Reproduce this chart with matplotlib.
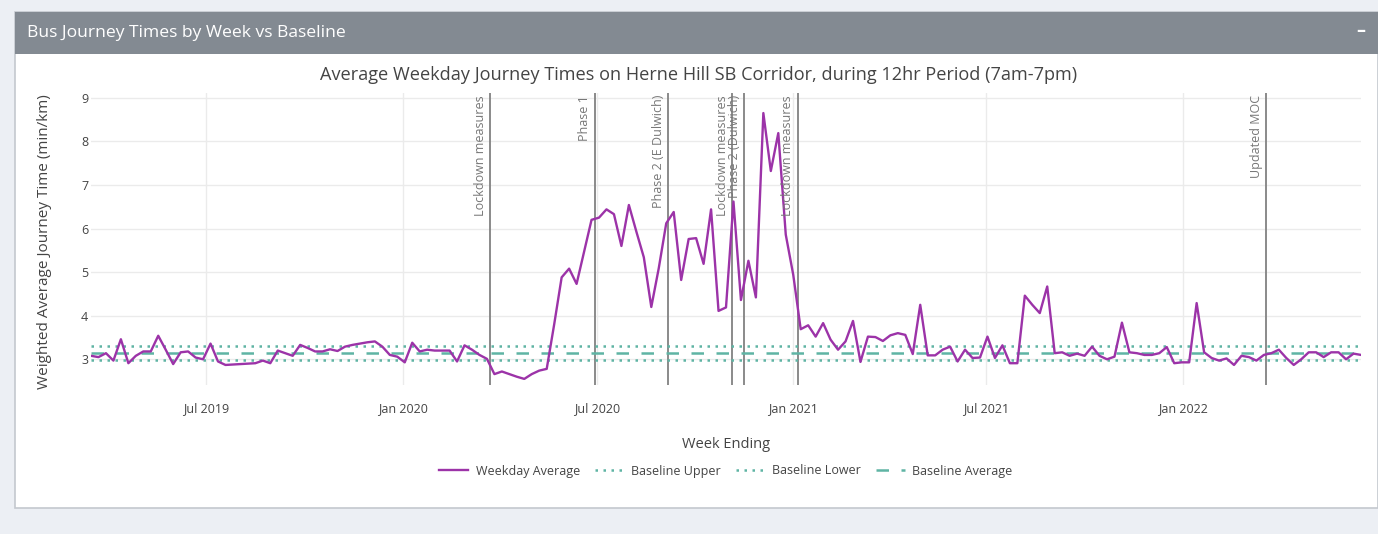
import matplotlib
matplotlib.use("Agg")
import matplotlib.pyplot as plt
import matplotlib.dates as mdates
from matplotlib.patches import Rectangle
import pandas as pd

plt.rcParams["font.family"] = ["Open Sans", "DejaVu Sans"]

# weekly values (min/km), week ending dates start 15 Mar 2019
start_week = "2019-03-15"
weekday_avg = [
    3.08, 3.05, 3.14, 2.97, 3.46, 2.91, 3.08, 3.18, 3.18, 3.54,
    3.22, 2.89, 3.16, 3.18, 3.04, 3.00, 3.36, 2.95, 2.87, 2.88,
    2.89, 2.90, 2.91, 2.97, 2.91, 3.20, 3.14, 3.08, 3.33, 3.26,
    3.18, 3.18, 3.23, 3.19, 3.29, 3.33, 3.36, 3.39, 3.41, 3.29,
    3.10, 3.06, 2.93, 3.38, 3.18, 3.22, 3.20, 3.20, 3.20, 2.95,
    3.32, 3.22, 3.10, 3.01, 2.66, 2.72, 2.66, 2.60, 2.55, 2.66,
    2.74, 2.78, 3.80, 4.88, 5.08, 4.73, 5.47, 6.20, 6.25, 6.44,
    6.33, 5.60, 6.54, 5.93, 5.34, 4.20, 5.09, 6.12, 6.38, 4.82,
    5.76, 5.78, 5.19, 6.44, 4.11, 4.19, 6.62, 4.36, 5.26, 4.42,
    8.65, 7.32, 8.19, 5.86, 4.94, 3.69, 3.78, 3.52, 3.83, 3.45,
    3.22, 3.41, 3.88, 2.94, 3.52, 3.51, 3.42, 3.55, 3.60, 3.56,
    3.12, 4.25, 3.09, 3.09, 3.22, 3.29, 2.95, 3.22, 3.03, 3.04,
    3.52, 3.03, 3.32, 2.91, 2.91, 4.46, 4.25, 4.06, 4.67, 3.14,
    3.16, 3.08, 3.13, 3.08, 3.29, 3.08, 3.00, 3.06, 3.84, 3.16,
    3.14, 3.10, 3.10, 3.14, 3.28, 2.91, 2.93, 2.93, 4.29, 3.16,
    3.03, 2.97, 3.02, 2.87, 3.08, 3.05, 2.97, 3.10, 3.14, 3.22,
    3.03, 2.87, 3.00, 3.16, 3.16, 3.05, 3.16, 3.16, 3.00, 3.13,
    3.10,
]
baseline_upper = 3.31
baseline_lower = 2.99
baseline_avg = 3.15

event_dates = ["2020-03-23", "2020-06-29", "2020-09-06", "2020-11-05",
               "2020-11-16", "2021-01-05", "2022-03-20"]
event_labels = ["Lockdown measures", "Phase 1", "Phase 2 (E Dulwich)",
                "Lockdown measures", "Phase 2 (Dulwich)", "Lockdown measures",
                "Updated MOC"]

W, H = 1378, 534


def px(x, y):
    # pixel position (from top-left) -> figure fraction
    return x / W, 1 - y / H


def draw_frame(fig):
    fig.patch.set_facecolor("#eceff4")
    x0, y0 = px(15, 508)
    fig.patches.append(Rectangle((x0, y0), 1 - x0, (508 - 12) / H,
                                 transform=fig.transFigure, facecolor="white",
                                 edgecolor="#c4c8ce", lw=1.2, zorder=-2))
    hx, hy = px(15, 54)
    fig.patches.append(Rectangle((hx, hy), 1 - hx, 42 / H,
                                 transform=fig.transFigure, facecolor="#838a92",
                                 edgecolor="none", zorder=-1))
    tx, ty = px(27, 33)
    fig.text(tx, ty, "Bus Journey Times by Week vs Baseline", color="white",
             fontsize=12.6, ha="left", va="center")
    mx, my = px(1361, 31)
    fig.text(mx, my, "\u2013", color="white", fontsize=13, fontweight="bold",
             ha="center", va="center")


def plotgraph():
    weeks = pd.date_range(start_week, periods=len(weekday_avg), freq="7D")

    fig = plt.figure(figsize=(W / 100, H / 100), dpi=100)
    draw_frame(fig)

    left, top = px(91, 93)
    right, bottom = px(1361, 385)
    ax = fig.add_axes([left, bottom, right - left, top - bottom])
    ax.set_zorder(3)
    ax.set_facecolor("none")

    teal = "#5fb4a4"
    ax.plot(weeks, weekday_avg, color="#9c33a8", lw=1.7, label="Weekday Average", zorder=5)
    ax.plot([weeks[0], weeks[-1]], [baseline_upper] * 2, color=teal, lw=1.8,
            ls=(0, (1, 2.2)), label="Baseline Upper", zorder=4)
    ax.plot([weeks[0], weeks[-1]], [baseline_lower] * 2, color=teal, lw=1.8,
            ls=(0, (1, 2.2)), label="Baseline Lower", zorder=4)
    ax.plot([weeks[0], weeks[-1]], [baseline_avg] * 2, color=teal, lw=1.8,
            ls=(0, (5, 5)), label="Baseline Average", zorder=4)

    for d, lab in zip(event_dates, event_labels):
        d = mdates.date2num(pd.Timestamp(d))
        ax.axvline(d, color="#8a8a8a", lw=1.4, zorder=3)
        ax.annotate(lab, xy=(d, 1), xycoords=ax.get_xaxis_transform(),
                    xytext=(-10, -2), textcoords="offset pixels",
                    rotation=90, ha="center", va="top", fontsize=9,
                    color="#777777", zorder=6)

    ax.set_xlim(weeks[0], weeks[-1])
    ax.set_ylim(2.41, 9.11)
    ax.set_yticks(range(3, 10))
    ax.xaxis.set_major_locator(mdates.MonthLocator(bymonth=[1, 7]))
    ax.xaxis.set_major_formatter(mdates.DateFormatter("%b %Y"))
    ax.grid(True, color="#ebebeb", lw=1)
    ax.set_axisbelow(True)
    for s in ax.spines.values():
        s.set_visible(False)
    ax.tick_params(axis="y", length=0, labelsize=9, colors="#444444", pad=2)
    ax.tick_params(axis="x", length=0, labelsize=9, colors="#444444", pad=12)

    fig.text(*px(699, 75),
             "Average Weekday Journey Times on Herne Hill SB Corridor, during 12hr Period (7am-7pm)",
             fontsize=13.1, color="#444444", ha="center", va="center")
    fig.text(*px(45, 242), "Weighted Average Journey Time (min/km)", rotation=90,
             fontsize=11, color="#444444", ha="center", va="center")
    fig.text(*px(726, 445), "Week Ending", fontsize=10.5, color="#444444",
             ha="center", va="center")

    handles, labels = ax.get_legend_handles_labels()
    fig.legend(handles, labels, loc="center", bbox_to_anchor=px(726, 471), ncol=4,
               frameon=False, fontsize=9, handlelength=2.3, handletextpad=0.6,
               columnspacing=1.2, labelcolor="#444444")

    fig.savefig("out.png", dpi=100, facecolor=fig.get_facecolor())


plotgraph()
